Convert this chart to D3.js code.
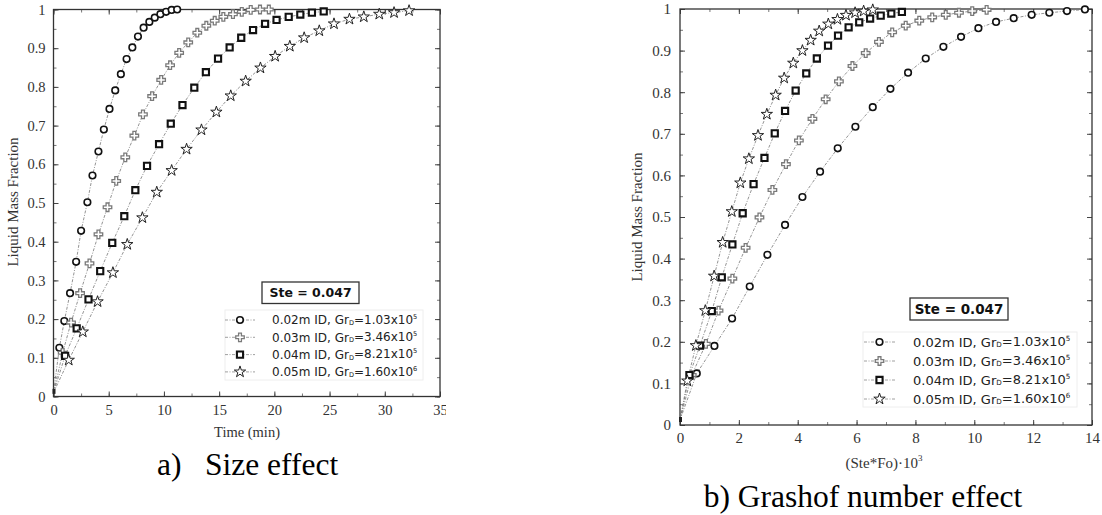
<!DOCTYPE html>
<html>
<head>
<meta charset="utf-8">
<script src="https://cdnjs.cloudflare.com/ajax/libs/d3/7.8.5/d3.min.js"></script>
<style>
  body { margin: 0; background: #fff; }
  svg { display: block; }
</style>
</head>
<body>
<div id="chart"></div>
<script>
// ---- data ----
// panel a) liquid mass fraction vs time (min)
var sizeD02 = [[0,0.01],[0.53,0.126],[0.98,0.195],[1.5,0.267],[2.05,0.348],[2.5,0.428],[3.07,0.502],[3.53,0.571],[4.07,0.633],[4.56,0.69],[5.07,0.743],[5.59,0.791],[6.1,0.833],[6.62,0.872],[7.14,0.902],[7.65,0.93],[8.16,0.953],[8.68,0.968],[9.17,0.979],[9.68,0.988],[10.2,0.994],[10.7,0.999],[11.2,1.0]];
var sizeD03 = [[0,0.01],[0.83,0.113],[1.59,0.191],[2.41,0.267],[3.26,0.344],[4.07,0.419],[4.89,0.489],[5.68,0.557],[6.5,0.618],[7.32,0.674],[8.1,0.729],[8.93,0.776],[9.75,0.818],[10.56,0.856],[11.38,0.888],[12.2,0.915],[13.02,0.94],[13.84,0.958],[14.6,0.971],[15.38,0.981],[16.25,0.988],[17.05,0.994],[17.86,0.999],[18.7,1.0],[19.5,1.0]];
var sizeD04 = [[0,0.01],[1.05,0.105],[2.1,0.176],[3.17,0.251],[4.23,0.324],[5.32,0.397],[6.41,0.466],[7.41,0.533],[8.47,0.596],[9.56,0.652],[10.62,0.705],[11.68,0.753],[12.75,0.798],[13.8,0.838],[14.9,0.873],[15.95,0.902],[17.0,0.927],[18.07,0.947],[19.16,0.963],[20.2,0.973],[21.3,0.981],[22.35,0.987],[23.4,0.992],[24.47,0.995]];
var sizeD05 = [[0,0.01],[1.38,0.094],[2.65,0.167],[3.99,0.245],[5.38,0.32],[6.68,0.393],[8.05,0.462],[9.35,0.528],[10.7,0.584],[12.05,0.639],[13.4,0.689],[14.75,0.735],[16.05,0.777],[17.4,0.815],[18.74,0.849],[20.07,0.879],[21.4,0.905],[22.7,0.927],[24.07,0.945],[25.4,0.963],[26.8,0.975],[28.1,0.981],[29.5,0.988],[30.84,0.992],[32.2,0.997]];

// panel b) liquid mass fraction vs (Ste*Fo)*10^3
var grD02 = [[0,0.012],[0.57,0.124],[1.17,0.19],[1.77,0.256],[2.37,0.333],[2.97,0.409],[3.57,0.481],[4.16,0.548],[4.76,0.609],[5.36,0.665],[5.96,0.717],[6.55,0.764],[7.15,0.808],[7.75,0.847],[8.35,0.881],[8.95,0.909],[9.55,0.933],[10.14,0.954],[10.74,0.969],[11.34,0.978],[11.95,0.986],[12.55,0.991],[13.15,0.995],[13.76,0.999]];
var grD03 = [[0,0.012],[0.4,0.12],[0.88,0.195],[1.31,0.275],[1.78,0.352],[2.23,0.426],[2.7,0.499],[3.14,0.565],[3.6,0.627],[4.04,0.684],[4.5,0.736],[4.95,0.783],[5.4,0.826],[5.86,0.863],[6.31,0.894],[6.76,0.921],[7.21,0.944],[7.67,0.96],[8.13,0.972],[8.57,0.98],[9.03,0.986],[9.48,0.991],[9.93,0.995],[10.42,0.998]];
var grD04 = [[0,0.012],[0.32,0.12],[0.68,0.191],[1.08,0.274],[1.42,0.355],[1.78,0.434],[2.13,0.509],[2.5,0.579],[2.87,0.642],[3.22,0.701],[3.57,0.755],[3.93,0.804],[4.29,0.845],[4.65,0.881],[5.03,0.912],[5.37,0.936],[5.73,0.956],[6.09,0.968],[6.46,0.977],[6.82,0.984],[7.18,0.989],[7.54,0.993]];
var grD05 = [[0,0.012],[0.25,0.106],[0.54,0.191],[0.86,0.275],[1.16,0.358],[1.45,0.439],[1.76,0.513],[2.05,0.582],[2.34,0.64],[2.65,0.696],[2.95,0.747],[3.25,0.793],[3.54,0.834],[3.85,0.87],[4.16,0.9],[4.44,0.925],[4.73,0.947],[5.04,0.964],[5.35,0.975],[5.64,0.985],[5.95,0.991],[6.24,0.995],[6.55,0.998]];

var legendIds = ["0.02m ID, Gr", "0.03m ID, Gr", "0.04m ID, Gr", "0.05m ID, Gr"];
var legendGr = ["=1.03x10", "=3.46x10", "=8.21x10", "=1.60x10"];
var legendExp = ["5", "5", "5", "6"];
var steLabel = "Ste = 0.047";

// marker styles per series (circle, cross, square, star)
var markers = [
    { type: d3.symbolCircle, size: 34, stroke: "#111", width: 1.6 },
    { type: d3.symbolCross, size: 40, stroke: "#7a7a7a", width: 1.3 },
    { type: d3.symbolSquare, size: 38, stroke: "#111", width: 2.1 },
    { type: d3.symbolStar, size: 40, stroke: "#222", width: 1.0 }
];

var serif = "'Liberation Serif', 'Times New Roman', serif";
var sans = "'DejaVu Sans', Verdana, sans-serif";

var svg = d3.select("#chart").append("svg")
    .attr("width", 1102)
    .attr("height", 515);

svg.append("defs").append("clipPath")
    .attr("id", "clipLeft")
    .append("rect")
    .attr("x", 0).attr("y", 0).attr("width", 446).attr("height", 515);

function drawPanel(opt) {
    var g = svg.append("g");
    if (opt.clip) g.attr("clip-path", "url(#clipLeft)");

    var x = d3.scaleLinear().domain(opt.xDomain).range([opt.left, opt.right]);
    var y = d3.scaleLinear().domain([0, 1]).range([opt.bottom, opt.top]);

    var fmtY = d3.format(".1~f");

    // major + minor ticks, pointing inward, on all four sides
    var sides = [
        { axis: d3.axisBottom, scale: x, t: `translate(0,${opt.bottom})`, labels: true, major: opt.xMajor, minor: opt.xMinor },
        { axis: d3.axisTop, scale: x, t: `translate(0,${opt.top})`, labels: false, major: opt.xMajor, minor: opt.xMinor },
        { axis: d3.axisLeft, scale: y, t: `translate(${opt.left},0)`, labels: true, major: 0.1, minor: 0.05 },
        { axis: d3.axisRight, scale: y, t: `translate(${opt.right},0)`, labels: false, major: 0.1, minor: 0.05 }
    ];
    sides.forEach(function (s) {
        var dom = s.scale.domain();
        var majorVals = d3.range(dom[0], dom[1] + 1e-9, s.major);
        var minorVals = d3.range(dom[0], dom[1] + 1e-9, s.minor);
        var isY = (s.scale === y);
        g.append("g")
            .attr("transform", s.t)
            .call(s.axis(s.scale).tickValues(minorVals).tickSize(-3).tickFormat(""))
            .call(a => a.select(".domain").remove())
            .call(a => a.selectAll("line").attr("stroke", "#555").attr("stroke-width", 0.8));
        var major = g.append("g")
            .attr("transform", s.t)
            .call(s.axis(s.scale).tickValues(majorVals).tickSize(-5)
                .tickPadding(isY ? opt.yPad : opt.xPad)
                .tickFormat(s.labels ? (isY ? fmtY : d3.format("d")) : ""))
            .call(a => a.select(".domain").remove())
            .call(a => a.selectAll("line").attr("stroke", "#444").attr("stroke-width", 1));
        major.selectAll("text")
            .style("font-family", serif)
            .style("font-size", opt.tickFont)
            .style("fill", "#333");
    });

    // frame
    g.append("rect")
        .attr("x", opt.left).attr("y", opt.top)
        .attr("width", opt.right - opt.left).attr("height", opt.bottom - opt.top)
        .attr("fill", "none").attr("stroke", "#333").attr("stroke-width", 1.3);

    // series lines and markers
    var line = d3.line().x(d => x(d[0])).y(d => y(d[1]));
    opt.series.forEach(function (data, i) {
        g.append("path")
            .datum(data)
            .attr("d", line)
            .attr("fill", "none")
            .attr("stroke", "#777")
            .attr("stroke-width", 0.8)
            .attr("stroke-dasharray", "3,1.5,1,1.5");
    });
    opt.series.forEach(function (data, i) {
        var m = markers[i];
        g.selectAll(".mk" + i)
            .data(data.slice(1))
            .enter()
            .append("path")
            .attr("class", "mk" + i)
            .attr("transform", d => `translate(${x(d[0])},${y(d[1])})`)
            .attr("d", d3.symbol().type(m.type).size(m.size))
            .attr("fill", "#fff")
            .attr("stroke", m.stroke)
            .attr("stroke-width", m.width);
    });
    // little blob at the origin where all series start
    g.append("rect")
        .attr("x", x(0) - 1).attr("y", y(0.012) - 3)
        .attr("width", 3).attr("height", 5)
        .attr("fill", "#222");

    // Ste box
    var sb = opt.steBox;
    g.append("rect")
        .attr("x", sb.x).attr("y", sb.y).attr("width", sb.w).attr("height", sb.h)
        .attr("fill", "#fff").attr("stroke", "#333").attr("stroke-width", 1.3);
    g.append("text")
        .attr("x", sb.x + sb.w / 2).attr("y", sb.y + sb.h / 2)
        .attr("dy", "0.36em")
        .attr("text-anchor", "middle")
        .style("font-family", sans)
        .style("font-weight", "bold")
        .style("font-size", sb.font + "px")
        .style("white-space", "pre")
        .attr("fill", "#111")
        .text(steLabel);

    // legend
    var lg = opt.legend;
    g.append("rect")
        .attr("x", lg.x).attr("y", lg.y).attr("width", lg.w).attr("height", lg.h)
        .attr("fill", "#fff").attr("stroke", "#eee").attr("stroke-width", 1);
    legendIds.forEach(function (label, i) {
        var ry = lg.rowY + i * lg.step;
        g.append("line")
            .attr("x1", lg.lineX1).attr("x2", lg.lineX2)
            .attr("y1", ry).attr("y2", ry)
            .attr("stroke", "#888").attr("stroke-width", 0.8)
            .attr("stroke-dasharray", "3,1.5,1,1.5");
        var m = markers[i];
        g.append("path")
            .attr("transform", `translate(${(lg.lineX1 + lg.lineX2) / 2},${ry})`)
            .attr("d", d3.symbol().type(m.type).size(m.size))
            .attr("fill", "#fff").attr("stroke", m.stroke).attr("stroke-width", m.width);
        var t = g.append("text")
            .attr("x", lg.textX).attr("y", ry).attr("dy", "0.36em")
            .style("font-family", sans)
            .style("font-size", lg.font + "px")
            .attr("fill", "#222");
        t.append("tspan").text(label);
        t.append("tspan").attr("font-size", lg.font * 0.55 + "px").attr("dy", "0.1em").text("D");
        t.append("tspan").attr("dy", "-0.1em").text(legendGr[i]);
        t.append("tspan").attr("font-size", lg.font * 0.55 + "px").attr("dy", "-0.75em").text(legendExp[i]);
    });

    // axis titles
    g.append("text")
        .attr("transform", `translate(${opt.yTitleX},${opt.yTitleY}) rotate(-90)`)
        .attr("text-anchor", "middle")
        .style("font-family", serif)
        .style("font-size", "15px")
        .attr("fill", "#333")
        .text("Liquid Mass Fraction");

    return { g: g, x: x, y: y };
}

// panel a)
var pa = drawPanel({
    clip: true,
    xDomain: [0, 35], xMajor: 5, xMinor: 2.5,
    left: 53.5, right: 440, top: 9.5, bottom: 396.5,
    xPad: 8, yPad: 8, tickFont: "14.5px",
    series: [sizeD02, sizeD03, sizeD04, sizeD05],
    steBox: { x: 262, y: 282, w: 97, h: 21.5, font: 12.5 },
    legend: { x: 225, y: 310, w: 198, h: 70, rowY: 320, step: 17.3, lineX1: 225, lineX2: 255, textX: 272, font: 12 },
    yTitleX: 18, yTitleY: 202
});
pa.g.append("text")
    .attr("x", 247).attr("y", 437)
    .attr("text-anchor", "middle")
    .style("font-family", serif)
    .style("font-size", "14.5px")
    .attr("fill", "#333")
    .text("Time (min)");

// panel b)
var pb = drawPanel({
    clip: false,
    xDomain: [0, 14], xMajor: 2, xMinor: 1,
    left: 680, right: 1092, top: 9, bottom: 425,
    xPad: 7, yPad: 9, tickFont: "15px",
    series: [grD02, grD03, grD04, grD05],
    steBox: { x: 910, y: 298, w: 98, h: 22, font: 13.5 },
    legend: { x: 863, y: 332, w: 214, h: 75, rowY: 342, step: 19, lineX1: 864, lineX2: 895, textX: 913, font: 13 },
    yTitleX: 642, yTitleY: 217
});
var xt = pb.g.append("text")
    .attr("x", 884).attr("y", 468)
    .attr("text-anchor", "middle")
    .style("font-family", serif)
    .style("font-size", "15px")
    .attr("fill", "#333");
xt.append("tspan").text("(Ste*Fo)\u00b710");
xt.append("tspan").attr("font-size", "9px").attr("dy", "-0.8em").text("3");

// captions
svg.append("text")
    .attr("y", 475)
    .style("font-family", serif)
    .style("font-size", "31.5px")
    .attr("fill", "#000")
    .call(t => t.append("tspan").attr("x", 157).text("a)"))
    .call(t => t.append("tspan").attr("x", 205).text("Size effect"));

svg.append("text")
    .attr("x", 863).attr("y", 507)
    .attr("text-anchor", "middle")
    .style("font-family", serif)
    .style("font-size", "31.5px")
    .attr("fill", "#000")
    .text("b) Grashof number effect");
</script>
</body>
</html>
